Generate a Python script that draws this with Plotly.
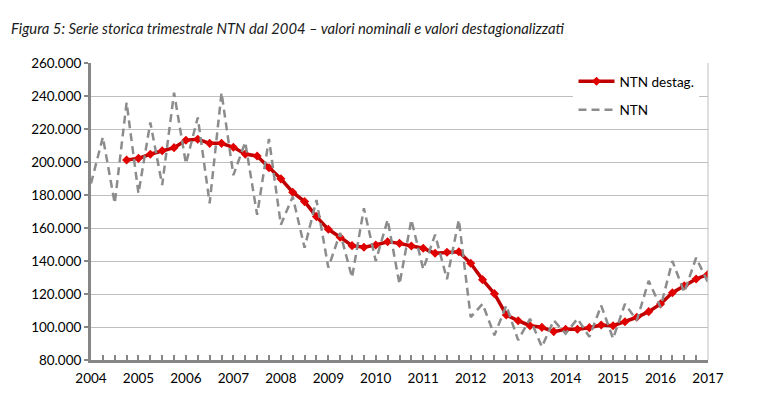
import plotly.graph_objects as go

# quarters 2004Q1 .. 2017Q1, positioned on a numeric year axis
QUARTERS = [2004 + i * 0.25 for i in range(53)]

# NTN nominal values (thousands), quarterly
ntn = [187, 215, 175, 236,
       181, 224, 186, 242,
       199, 227, 175, 242,
       192, 212, 168, 214,
       162, 179, 148, 177,
       136, 157, 130, 172,
       140, 165, 126, 165,
       135, 156, 129, 165,
       106, 114, 95, 113,
       92, 105, 88, 104,
       96, 105, 94, 113,
       93, 114, 104, 128,
       112, 140, 121, 142,
       127]

# NTN destag. (thousands), starts 2004Q4
ntn_destag = [201.2,
              202.2, 204.7, 206.8, 208.7,
              213.2, 213.8, 211.3, 211.3,
              208.9, 204.8, 203.6, 196.5,
              189.8, 181.7, 176.0, 166.9,
              159.2, 154.4, 149.3, 148.3,
              149.7, 151.7, 150.7, 149.1,
              147.7, 144.7, 145.3, 145.6,
              138.6, 128.7, 120.2, 107.3,
              103.8, 100.8, 99.8, 97.2,
              98.6, 98.6, 99.6, 101.2,
              100.8, 103.2, 105.9, 109.3,
              114.0, 120.8, 125.0, 129.1,
              131.9]

FONT = "Lato, 'Open Sans', sans-serif"

fig = go.Figure()

fig.add_trace(go.Scatter(
    x=QUARTERS[3:], y=[v * 1000 for v in ntn_destag],
    mode="lines+markers", name="NTN destag.", legendgroup="a",
    line=dict(color="#C00000", width=3.5),
    marker=dict(symbol="diamond", size=7, color="#E00000"),
))
fig.add_trace(go.Scatter(
    x=QUARTERS, y=[v * 1000 for v in ntn],
    mode="lines", name="NTN", legendgroup="b",
    line=dict(color="#8C8C8C", width=2.5, dash="8px,5px"),
))

fig.update_layout(
    width=758, height=409,
    margin=dict(l=83, r=58, t=55, b=57),
    paper_bgcolor="white", plot_bgcolor="white",
    separators=",.",
    font=dict(family=FONT, size=13, color="#000000"),
    showlegend=True,
    legend=dict(x=0.782, y=0.99, xanchor="left", yanchor="top",
                bgcolor="white", font=dict(size=13.5, family=FONT),
                itemwidth=36, tracegroupgap=8),
    xaxis=dict(
        range=[2004, 2017], tickmode="linear", tick0=2004, dtick=1,
        showgrid=False, zeroline=False,
        showline=True, linecolor="#868686", linewidth=3,
        ticks="inside", ticklen=5, tickcolor="#868686", tickwidth=2,
        minor=dict(dtick=0.25, ticks="inside", ticklen=5,
                   tickcolor="#868686", tickwidth=2, showgrid=False),
        tickfont=dict(size=13.5), ticklabelstandoff=4,
    ),
    yaxis=dict(
        range=[80000, 260000], tickmode="linear", tick0=80000, dtick=20000,
        tickformat=",.0f",
        showgrid=True, gridcolor="#BFBFBF", gridwidth=1, zeroline=False,
        showline=True, linecolor="#868686", linewidth=3,
        ticks="outside", ticklen=4, tickcolor="#868686", tickwidth=2,
        tickfont=dict(size=13.5),
    ),
    annotations=[dict(
        text="<i>Figura 5: Serie storica trimestrale NTN dal 2004 – valori nominali e valori destagionalizzati</i>",
        xref="paper", yref="paper", x=-0.133, y=1.118, xanchor="left", yanchor="middle",
        showarrow=False, font=dict(size=14.8, color="#1a1a1a", family=FONT),
    )],
    shapes=[dict(type="line", xref="paper", yref="paper", x0=1, x1=1, y0=0, y1=1,
                 line=dict(color="#BFBFBF", width=1))],
)

fig.write_html("out.html")
